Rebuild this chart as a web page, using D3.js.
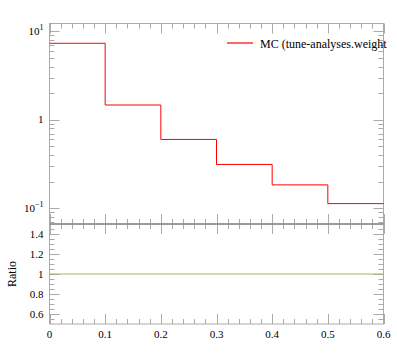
<!DOCTYPE html>
<html><head><meta charset="utf-8">
<script src="https://cdn.jsdelivr.net/npm/d3@7"></script>
<style>body{margin:0;background:#fff}svg{display:block}text{font-family:"Liberation Serif","DejaVu Serif",serif;fill:#000}</style>
</head><body>
<script>
const binEdges = [0, 0.1, 0.2, 0.3, 0.4, 0.5, 0.6];
const mcValues = [7.32, 1.47, 0.600, 0.313, 0.184, 0.113];
const ratioValues = [1, 1, 1, 1, 1, 1];
const xTicks = [0, 0.1, 0.2, 0.3, 0.4, 0.5, 0.6];
const ratioTicks = [0.6, 0.8, 1, 1.2, 1.4];
const legendLabel = "MC (tune-analyses.weight";

const W = 397, H = 358;
const L = 49.5, R = 383.5, T = 23.5, M = 224, B = 324;
const svg = d3.select("body").append("svg").attr("width", W).attr("height", H);

const x = d3.scaleLinear().domain([0, 0.6]).range([L, R]);
const y = d3.scaleLog().domain([0.0665, 12.25]).range([M, T]);
const yr = d3.scaleLinear().domain([0.5, 1.5]).range([B, M]);
const frameCol = "#aaaaaa";

function stepPath(vals, ys) {
  let p = "";
  vals.forEach((v, i) => {
    const x0 = x(binEdges[i]), x1 = x(binEdges[i + 1]), yy = ys(v);
    p += (i === 0 ? "M" : "L") + x0 + "," + yy + "L" + x1 + "," + yy;
  });
  return p;
}

svg.append("rect").attr("x", L).attr("y", T).attr("width", R - L).attr("height", M - T)
  .attr("fill", "none").attr("stroke", frameCol);
svg.append("rect").attr("x", L).attr("y", M).attr("width", R - L).attr("height", B - M)
  .attr("fill", "none").attr("stroke", frameCol);

const minorX = d3.range(0, 31).map(i => i * 0.02).filter(v => Math.abs(v * 10 - Math.round(v * 10)) > 1e-6);
function xTicksAt(yy, dir) {
  xTicks.forEach(v => svg.append("line").attr("x1", Math.round(x(v)) + 0.5).attr("x2", Math.round(x(v)) + 0.5)
    .attr("y1", yy).attr("y2", yy + dir * 10).attr("stroke", frameCol));
  minorX.forEach(v => svg.append("line").attr("x1", Math.round(x(v)) + 0.5).attr("x2", Math.round(x(v)) + 0.5)
    .attr("y1", yy).attr("y2", yy + dir * 5).attr("stroke", frameCol));
}
xTicksAt(T, 1); xTicksAt(M, -1); xTicksAt(M, 1); xTicksAt(B, -1);

const logMajor = [0.1, 1, 10];
const logMinor = [];
[0.01, 0.1, 1, 10].forEach(d => { for (let k = 2; k <= 9; k++) { const v = d * k; if (v > 0.0665 && v < 12.25) logMinor.push(v); } });
[[L, 1], [R, -1]].forEach(([xx, dir]) => {
  logMajor.forEach(v => svg.append("line").attr("x1", xx).attr("x2", xx + dir * 10)
    .attr("y1", Math.round(y(v)) + 0.5).attr("y2", Math.round(y(v)) + 0.5).attr("stroke", frameCol));
  logMinor.forEach(v => svg.append("line").attr("x1", xx).attr("x2", xx + dir * 5)
    .attr("y1", Math.round(y(v)) + 0.5).attr("y2", Math.round(y(v)) + 0.5).attr("stroke", frameCol));
});

const ratioMinor = d3.range(0, 21).map(i => 0.5 + i * 0.05).filter(v => v > 0.51 && v < 1.49 && !ratioTicks.some(t => Math.abs(t - v) < 1e-6));
[[L, 1], [R, -1]].forEach(([xx, dir]) => {
  ratioTicks.forEach(v => svg.append("line").attr("x1", xx).attr("x2", xx + dir * 10)
    .attr("y1", Math.round(yr(v)) + 0.5).attr("y2", Math.round(yr(v)) + 0.5).attr("stroke", frameCol));
  ratioMinor.forEach(v => svg.append("line").attr("x1", xx).attr("x2", xx + dir * 5)
    .attr("y1", Math.round(yr(v)) + 0.5).attr("y2", Math.round(yr(v)) + 0.5).attr("stroke", frameCol));
});

svg.append("line").attr("x1", L).attr("x2", R).attr("y1", M).attr("y2", M).attr("stroke", "#777");

svg.append("path").attr("d", stepPath(mcValues, y)).attr("fill", "none").attr("stroke", "#ff0000").attr("stroke-width", 1);
svg.append("path").attr("d", stepPath(ratioValues, yr)).attr("fill", "none").attr("stroke", "#b0b060").attr("stroke-width", 1);

xTicks.forEach(v => svg.append("text").attr("x", x(v)).attr("y", 338).attr("text-anchor", "middle")
  .attr("font-size", 11).text(String(v)));

const ylab = [[10, "10", "1"], [1, "1", null], [0.1, "10", "−1"]];
ylab.forEach(([v, base, sup]) => {
  const t = svg.append("text").attr("x", 43.5).attr("y", y(v) + 3.5).attr("text-anchor", "end").attr("font-size", 11);
  t.append("tspan").text(base);
  if (sup) t.append("tspan").attr("dy", -5).attr("font-size", 8).text(sup);
});

ratioTicks.forEach(v => svg.append("text").attr("x", 43.5).attr("y", yr(v) + 3.5).attr("text-anchor", "end")
  .attr("font-size", 11).text(String(v)));

svg.append("text").attr("transform", "translate(15.5," + yr(1) + ") rotate(-90)").attr("text-anchor", "middle")
  .attr("font-size", 12).text("Ratio");

svg.append("line").attr("x1", 227).attr("x2", 253).attr("y1", 43).attr("y2", 43).attr("stroke", "#ff0000").attr("stroke-width", 1.2);
svg.append("text").attr("x", 260).attr("y", 47.5).attr("font-size", 12).text(legendLabel);
</script>
</body></html>
